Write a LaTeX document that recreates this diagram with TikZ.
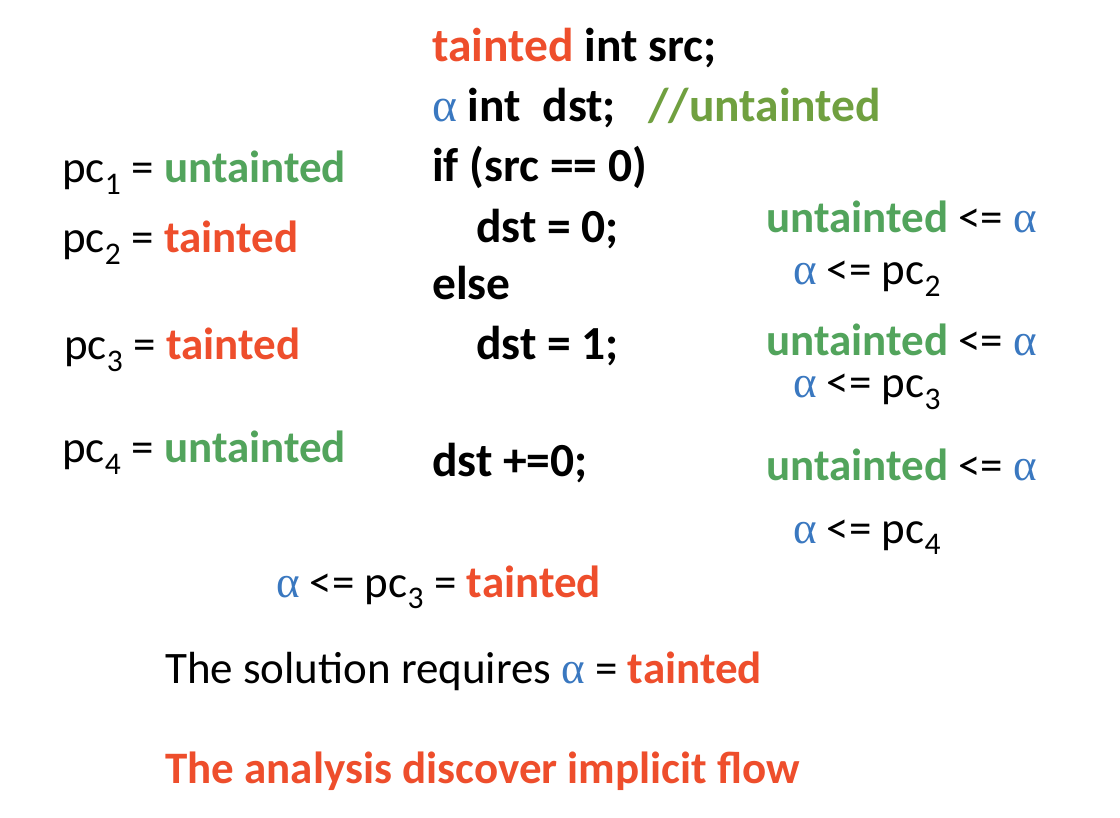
\documentclass[tikz,border=0pt]{standalone}
\usepackage{fontspec}
\setmainfont{Carlito}
\newfontfamily\greekfont{Liberation Serif}
\usetikzlibrary{positioning}
\definecolor{taintred}{RGB}{238,78,44}
\definecolor{cleangreen}{RGB}{82,164,92}
\definecolor{commentgreen}{RGB}{112,160,64}
\definecolor{alphablue}{RGB}{58,120,192}
\newcommand{\tnt}{\textcolor{taintred}{\textbf{tainted}}}
\newcommand{\utnt}{\textcolor{cleangreen}{\textbf{untainted}}}
\newcommand{\al}{\textcolor{alphablue}{\mdseries\greekfont α}}
\tikzset{
	txt/.style={anchor=base west, inner sep=0pt, font=\fontsize{45}{50}\selectfont},
	code/.style={txt, font=\fontsize{47.5}{52}\selectfont\bfseries}
}

\begin{document}
\begin{tikzpicture}[x=1pt, y=-1pt]
				\useasboundingbox[fill=white] (0, 0) rectangle (1120, 818);
				
				% the program
				\node[code] (l1) at (432, 62) {\textcolor{taintred}{tainted} int src;};
				\node[code] (l2) at (432, 122) {\al\ int\ \ dst;\ \ \ \textcolor{commentgreen}{//untainted}};
				\node[code] (l3) at (432, 182) {if (src == 0)};
				\node[code] (l4) at (476, 243) {dst = 0;};
				\node[code] (l5) at (432, 300) {else};
				\node[code] (l6) at (476, 360) {dst = 1;};
				\node[code] (l7) at (432, 476) {dst +=0;};
				
				% program counters
				\node[txt] (pc1) at (62, 183) {pc$_{\mathrm{1}}$ = \utnt};
				\node[txt] (pc2) at (62, 253) {pc$_{\mathrm{2}}$ = \tnt};
				\node[txt] (pc3) at (64, 360) {pc$_{\mathrm{3}}$ = \tnt};
				\node[txt] (pc4) at (62, 463) {pc$_{\mathrm{4}}$ = \utnt};
				
				% constraints
				\node[txt] (c1) at (766, 233) {\utnt\ <= \al};
				\node[txt] (c2) at (793, 285) {\al\ <= pc$_{\mathrm{2}}$};
				\node[txt] (c3) at (766, 356) {\utnt\ <= \al};
				\node[txt] (c4) at (793, 398) {\al\ <= pc$_{\mathrm{3}}$};
				\node[txt] (c5) at (766, 480) {\utnt\ <= \al};
				\node[txt] (c6) at (793, 543) {\al\ <= pc$_{\mathrm{4}}$};
				
				% conclusion
				\node[txt] (res) at (276, 597) {\al\ <= pc$_{\mathrm{3}}$ = \tnt};
				\node[txt] (sol) at (165, 683) {The solution requires \al\ = \tnt};
				\node[txt, text=taintred, font=\fontsize{45}{50}\selectfont\bfseries] (fin) at (165, 783) {The analysis discover implicit flow};
			\end{tikzpicture}
\end{document}
